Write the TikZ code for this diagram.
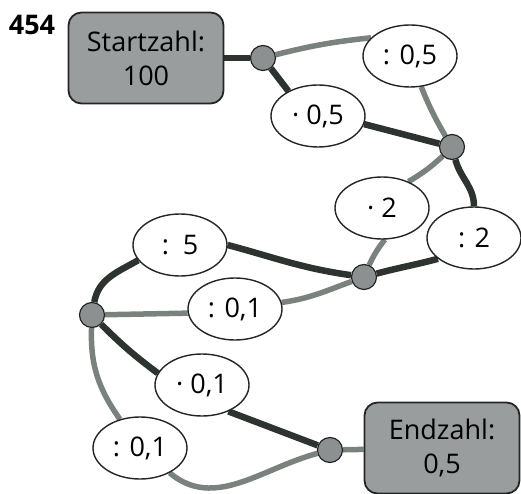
\documentclass[tikz,border=0pt]{standalone}
\usepackage{fontspec}
\setmainfont{Open Sans}
\usetikzlibrary{shapes.geometric,backgrounds}
\definecolor{dk}{RGB}{45,51,47}
\definecolor{lg}{RGB}{122,130,125}
\definecolor{dotc}{RGB}{140,144,144}
\definecolor{boxc}{RGB}{154,157,157}
\definecolor{edge}{RGB}{35,38,36}
\begin{document}
\begin{tikzpicture}[x=1pt,y=1pt,
  txt/.style={font=\fontsize{27}{34}\selectfont},
  oval/.style={txt,ellipse,draw=edge,line width=1.4pt,fill=white,minimum width=94pt,minimum height=62pt,inner sep=0pt},
  endbox/.style={txt,rectangle,rounded corners=13pt,draw=edge,line width=1.8pt,fill=boxc,minimum width=155pt,minimum height=91pt,align=center,inner sep=0pt},
  knot/.style={circle,draw=edge,line width=1.2pt,fill=dotc,minimum size=25pt,inner sep=0pt},
  dline/.style={draw=dk,line width=6.5pt},
  gline/.style={draw=lg,line width=5.5pt}]
\useasboundingbox (0,0) rectangle (521,-494);

\node[font=\fontsize{27}{30}\selectfont\bfseries] (num) at (32,-25) {454};

\node[endbox] (start) at (146,-58) {Startzahl:\\100};
\node[endbox] (end) at (442,-448) {Endzahl:\\0,5};

\node[oval] (e05a) at (410,-56) {: 0,5};
\node[oval] (e05b) at (318,-116) {· 0,5};
\node[oval] (e2a) at (382,-208) {· 2};
\node[oval] (e2b) at (474,-238) {: 2};
\node[oval] (e5) at (180,-245) {:\, 5};
\node[oval] (e01a) at (235,-309) {: 0,1};
\node[oval] (e01b) at (202,-385) {· 0,1};
\node[oval] (e01c) at (140,-448) {: 0,1};

\node[knot] (d1) at (263,-58) {};
\node[knot] (d2) at (452,-147) {};
\node[knot] (d3) at (364,-277) {};
\node[knot] (d4) at (92,-315) {};
\node[knot] (d5) at (330,-450) {};

\begin{scope}[on background layer]
\draw[dline] (start) -- (d1);
\draw[gline] (d1) to[bend left=4] (e05a.155);
\draw[dline] (d1) -- (e05b.140);
\draw[gline] (e05a.290) to[bend right=4] (d2);
\draw[dline] (e05b.350) -- (d2);
\draw[gline] (d2) to[bend left=6] (e2a.45);
\draw[dline] (d2) to[out=-75,in=90] (e2b.north);
\draw[gline] (e2a.275) to[bend right=6] (d3);
\draw[dline] (e2b.210) to[out=195,in=15] (d3);
\draw[dline] (e5.east) to[out=-15,in=172] (d3);
\draw[gline] (e01a.8) to[out=8,in=200] (d3);
\draw[dline] (e5.200) to[out=210,in=80] (d4);
\draw[gline] (e01a.185) -- (d4);
\draw[dline] (d4) to[bend right=4] (e01b.165);
\draw[gline] (d4) to[out=-92,in=125] (e01c.125);
\draw[dline] (e01b.315) -- (d5);
\draw[gline] (e01c.320) to[out=-40,in=195] (d5);
\draw[gline] (d5) -- (end);
\end{scope}
\end{tikzpicture}
\end{document}
